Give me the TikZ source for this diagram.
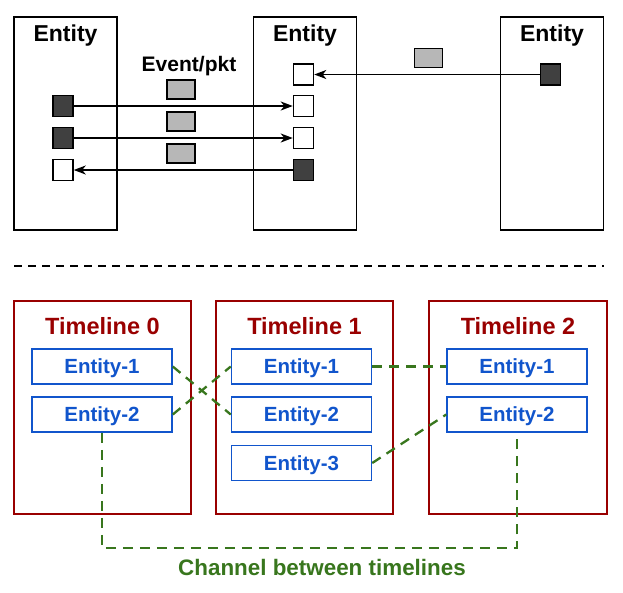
\documentclass[tikz,border=0pt]{standalone}
\usepackage{fontspec}
\setmainfont{Liberation Sans}
\usetikzlibrary{arrows.meta}
\definecolor{tlred}{HTML}{990000}
\definecolor{entblue}{HTML}{1155CC}
\definecolor{changreen}{HTML}{38761D}
\definecolor{darkport}{HTML}{404040}
\definecolor{pktgray}{HTML}{B7B7B7}
\tikzset{
  entitybox/.style={draw, line width=1.6pt, minimum width=103pt, minimum height=213pt, inner sep=0pt},
  port/.style={draw, line width=1.5pt, minimum width=20pt, minimum height=21pt, inner sep=0pt, fill=white},
  darkp/.style={port, fill=darkport},
  pkt/.style={draw, line width=1.5pt, minimum width=28pt, minimum height=19pt, inner sep=0pt, fill=pktgray},
  msg/.style={line width=1.5pt, -{Stealth[length=12pt,width=9pt,inset=3.5pt]}},
  tlbox/.style={draw=tlred, line width=1.5pt, minimum width=177pt, minimum height=213pt, inner sep=0pt},
  tlent/.style={draw=entblue, line width=1.5pt, minimum width=140pt, minimum height=35pt, inner sep=0pt,
    text=entblue, font=\bfseries\fontsize{20.5}{24}\selectfont, text height=14.7pt, text depth=0pt},
  chan/.style={draw=changreen, line width=2.3pt, dash pattern=on 10pt off 7pt},
  title/.style={anchor=base, font=\bfseries\fontsize{23}{27}\selectfont}
}
\begin{document}
\begin{tikzpicture}[x=1pt,y=-1pt]
\useasboundingbox (0,0) rectangle (623,592);

% entities and events
\node[entitybox] (ent0) at (65.5,123.5) {};
\node[entitybox] (ent1) at (305,123.5) {};
\node[entitybox] (ent2) at (552,123.5) {};
\node[title] (ent0t) at (65.5,41) {Entity};
\node[title] (ent1t) at (305,41) {Entity};
\node[title] (ent2t) at (552,41) {Entity};
\node[title, font=\bfseries\fontsize{21}{25}\selectfont] (evt) at (189,71) {Event/pkt};

\node[darkp] (l1) at (63,106) {};
\node[darkp] (l2) at (63,138) {};
\node[port] (l3) at (63,170) {};
\node[port] (m0) at (303.5,74.5) {};
\node[port] (m1) at (303.5,106) {};
\node[port] (m2) at (303.5,138) {};
\node[darkp] (m3) at (303.5,170) {};
\node[darkp] (r0) at (550.5,74.5) {};

\node[pkt] (p0) at (428.5,58) {};
\node[pkt] (p1) at (181,89.5) {};
\node[pkt] (p2) at (181,121.5) {};
\node[pkt] (p3) at (181,153.5) {};

\draw[msg] (l1) -- (m1);
\draw[msg] (l2) -- (m2);
\draw[msg] (m3) -- (l3);
\draw[msg] (r0) -- (m0);

% separator
\coordinate (sepl) at (14,266);
\coordinate (sepr) at (604,266);
\draw[line width=1.5pt, dash pattern=on 8pt off 6pt] (sepl) -- (sepr);

% timelines
\node[tlbox] (tl0) at (102.5,407.5) {};
\node[tlbox] (tl1) at (304.5,407.5) {};
\node[tlbox, minimum width=178pt] (tl2) at (518,407.5) {};
\node[title, text=tlred, font=\bfseries\fontsize{23.5}{28}\selectfont] at (102.5,334) {Timeline 0};
\node[title, text=tlred, font=\bfseries\fontsize{23.5}{28}\selectfont] at (304.5,334) {Timeline 1};
\node[title, text=tlred, font=\bfseries\fontsize{23.5}{28}\selectfont] at (518,334) {Timeline 2};

\node[tlent] (a1) at (102,366.5) {Entity-1};
\node[tlent] (a2) at (102,414.5) {Entity-2};
\node[tlent] (b1) at (301.5,366.5) {Entity-1};
\node[tlent] (b2) at (301.5,414.5) {Entity-2};
\node[tlent] (b3) at (301.5,463) {Entity-3};
\node[tlent] (c1) at (517,366.5) {Entity-1};
\node[tlent] (c2) at (517,414.5) {Entity-2};

% channels
\draw[chan] (a1.east) -- (b2.west);
\draw[chan] (a2.east) -- (b1.west);
\draw[chan] (b1.east) -- (c1.west);
\draw[chan] (b3.east) -- (c2.west);
\coordinate (chbot) at (0,548);
\draw[chan] (a2.south) -- (a2.south |- chbot) -| (c2.south);
\node[title, text=changreen, font=\bfseries\fontsize{22.4}{27}\selectfont] (chlab) at (322,575) {Channel between timelines};
\end{tikzpicture}
\end{document}
